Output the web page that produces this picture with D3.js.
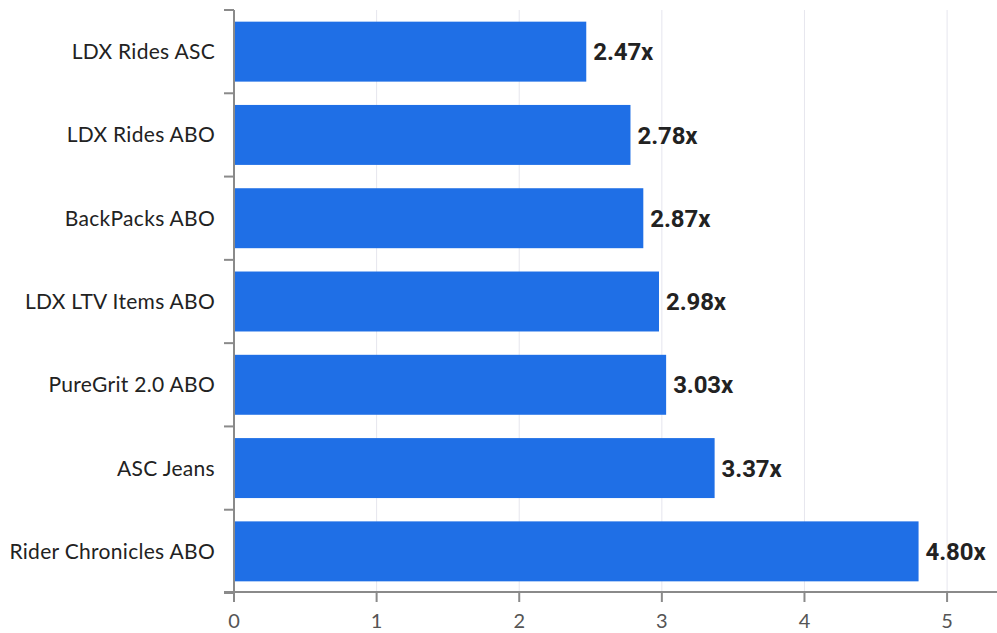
<!DOCTYPE html>
<html><head><meta charset="utf-8">
<script src="https://cdn.jsdelivr.net/npm/d3@7/dist/d3.min.js"></script>
<style>body{margin:0;background:#fff;}svg{display:block;}</style>
</head><body>
<script>
const categories = ["LDX Rides ASC","LDX Rides ABO","BackPacks ABO","LDX LTV Items ABO","PureGrit 2.0 ABO","ASC Jeans","Rider Chronicles ABO"];
const values = [2.47, 2.78, 2.87, 2.98, 3.03, 3.37, 4.80];
const xTicks = [0,1,2,3,4,5];

const W = 997, H = 633;
const svg = d3.select("body").append("svg").attr("width", W).attr("height", H);
const x = d3.scaleLinear().domain([0, 5.35]).range([234, 997]);
const y = d3.scaleBand().domain(categories).range([10, 593]).paddingInner(0.28).paddingOuter(0.14);
const axisColor = "#8a8a8a";

// gridlines
svg.append("g").selectAll("line").data(xTicks.filter(d => d > 0)).join("line")
  .attr("x1", d => x(d)).attr("x2", d => x(d)).attr("y1", 10).attr("y2", 592)
  .attr("stroke", "#e6e6ee").attr("stroke-width", 1);

// bars
svg.append("g").selectAll("rect").data(values).join("rect")
  .attr("x", x(0) + 1).attr("y", (d, i) => y(categories[i]))
  .attr("width", d => x(d) - x(0) - 1).attr("height", y.bandwidth())
  .attr("fill", "#1f6fe6");

// value labels
svg.append("g").selectAll("text").data(values).join("text")
  .attr("x", d => x(d) + 7).attr("y", (d, i) => y(categories[i]) + y.bandwidth() / 2)
  .attr("dy", "0.36em")
  .attr("font-family", "Roboto, sans-serif").attr("font-weight", "bold").attr("font-size", 24)
  .attr("letter-spacing", "-0.1px")
  .attr("fill", "#222").text(d => d.toFixed(2) + "x");

// y axis
const yAxis = svg.append("g");
yAxis.append("line").attr("x1", 234).attr("x2", 234).attr("y1", 10).attr("y2", 602)
  .attr("stroke", axisColor).attr("stroke-width", 2);
const step = y.step();
const bounds = d3.range(categories.length + 1).map(i => y.range()[0] + i * step);
yAxis.selectAll("line.tk").data(bounds).join("line").attr("class", "tk")
  .attr("x1", 224).attr("x2", 234).attr("y1", d => d).attr("y2", d => d)
  .attr("stroke", axisColor).attr("stroke-width", 2);
yAxis.selectAll("text").data(categories).join("text")
  .attr("x", 215).attr("y", d => y(d) + y.bandwidth() / 2).attr("dy", "0.36em")
  .attr("text-anchor", "end").attr("font-family", "Lato, sans-serif").attr("font-size", 21)
  .attr("letter-spacing", "0.3px")
  .attr("fill", "#222").text(d => d);

// x axis
const xAxis = svg.append("g");
xAxis.append("line").attr("x1", 224).attr("x2", 997).attr("y1", 592).attr("y2", 592)
  .attr("stroke", axisColor).attr("stroke-width", 2);
xAxis.selectAll("line.tk").data(xTicks).join("line").attr("class", "tk")
  .attr("x1", d => x(d)).attr("x2", d => x(d)).attr("y1", 592).attr("y2", 602)
  .attr("stroke", axisColor).attr("stroke-width", 2);
xAxis.selectAll("text").data(xTicks).join("text")
  .attr("x", d => x(d)).attr("y", 621).attr("dy", "0.36em")
  .attr("text-anchor", "middle").attr("font-family", "Lato, sans-serif").attr("font-size", 20)
  .attr("fill", "#555").text(d => d);
</script>
</body></html>
